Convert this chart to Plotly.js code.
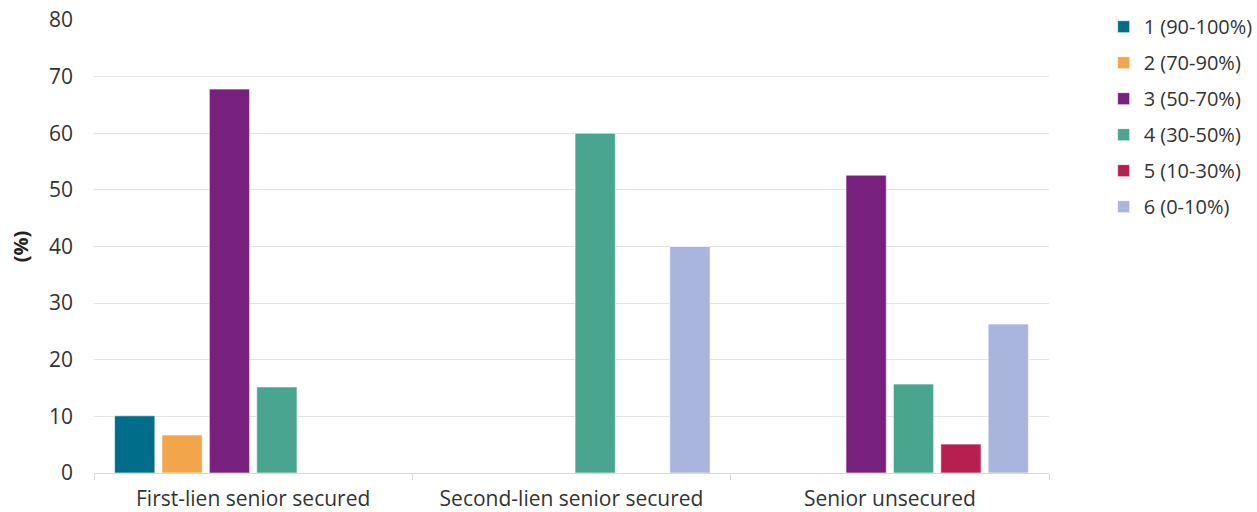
<!DOCTYPE html>
<html>
<head>
<meta charset="utf-8">
<script src="https://cdn.plot.ly/plotly-3.0.1.min.js"></script>
<style>html,body{margin:0;padding:0;background:#fff;}#chart{width:1257px;height:512px;}</style>
</head>
<body>
<div id="chart"></div>
<script>
const categories = ["First-lien senior secured", "Second-lien senior secured", "Senior unsecured"];
const seriesNames = ["1 (90-100%)", "2 (70-90%)", "3 (50-70%)", "4 (30-50%)", "5 (10-30%)", "6 (0-10%)"];
const s1 = [10.1, null, null];
const s2 = [6.7, null, null];
const s3 = [67.8, null, 52.6];
const s4 = [15.2, 60.0, 15.7];
const s5 = [null, null, 5.1];
const s6 = [null, 40.0, 26.3];
const yTicks = [0, 10, 20, 30, 40, 50, 60, 70, 80];
const colors = ["#006E8A", "#F2A54A", "#77207D", "#49A58E", "#B81F51", "#AAB5DE"];

const allSeries = [s1, s2, s3, s4, s5, s6];
const traces = allSeries.map((vals, i) => ({
  type: "bar",
  name: seriesNames[i],
  x: categories,
  y: vals,
  legendgroup: "g" + i,
  marker: {color: colors[i], line: {color: "rgba(255,255,255,0.6)", width: 1}},
  hoverinfo: "x+y+name"
}));

const font = "'Open Sans', sans-serif";
const layout = {
  width: 1257,
  height: 512,
  margin: {l: 94, r: 208, t: 20, b: 39, autoexpand: false},
  paper_bgcolor: "#fff",
  plot_bgcolor: "#fff",
  barmode: "group",
  bargap: 0.107,
  bargroupgap: 0.15,
  font: {family: font, size: 21, color: "#333"},
  xaxis: {
    type: "category",
    showgrid: false,
    showline: true,
    linecolor: "#d9d9d9",
    linewidth: 1,
    ticks: "outside",
    tickson: "boundaries",
    ticklen: 6,
    tickcolor: "#d9d9d9",
    ticklabelstandoff: 7,
    tickfont: {family: font, size: 21, color: "#333"},
    zeroline: false
  },
  yaxis: {
    range: [0, 80],
    tickvals: yTicks,
    ticktext: yTicks.map(String),
    showgrid: true,
    gridcolor: "#e3e3e3",
    gridwidth: 1,
    zeroline: false,
    showline: false,
    ticks: "",
    ticklabelstandoff: 20,
    tickfont: {family: font, size: 21, color: "#333"},
    title: {text: "(%)", font: {family: font, size: 20, color: "#222", weight: "bold"}, standoff: 14}
  },
  legend: {
    xref: "container",
    yref: "container",
    x: 0.878,
    xanchor: "left",
    y: 0.986,
    yanchor: "top",
    tracegroupgap: 7,
    itemwidth: 30,
    font: {family: font, size: 20, color: "#333"},
    bgcolor: "rgba(0,0,0,0)"
  },
  showlegend: true
};

Plotly.newPlot("chart", traces, layout, {displayModeBar: false, staticPlot: true});
</script>
</body>
</html>
